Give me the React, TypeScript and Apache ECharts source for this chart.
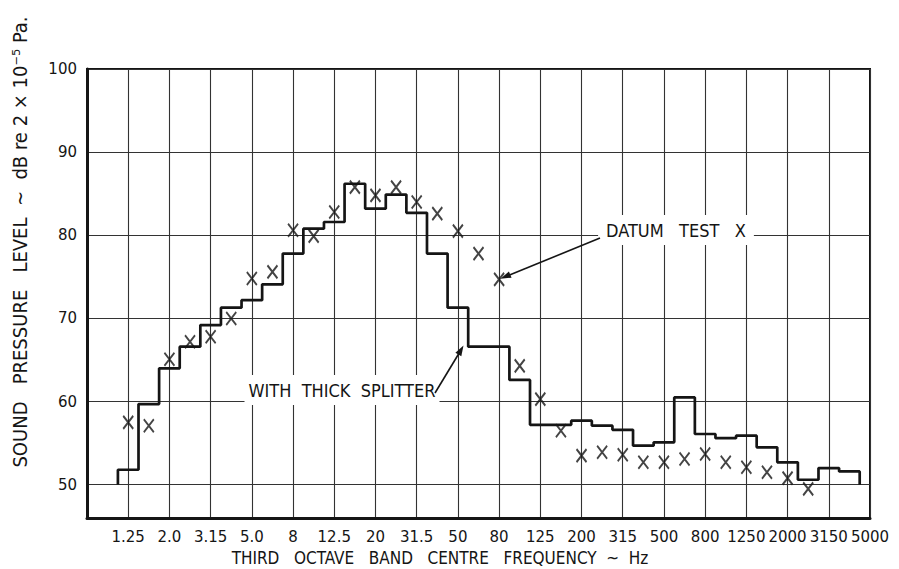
import React, { useEffect, useRef } from "react";
import * as echarts from "echarts";

// Third-octave band centres (Hz) from the left edge of the chart to the right edge
const bandCentres = [
  "0.8", "1.0", "1.25", "1.6", "2.0", "2.5", "3.15", "4", "5", "6.3",
  "8", "10", "12.5", "16", "20", "25", "31.5", "40", "50", "63",
  "80", "100", "125", "160", "200", "250", "315", "400", "500", "630",
  "800", "1000", "1250", "1600", "2000", "2500", "3150", "4000", "5000",
];

// Labels shown under every other band line
const xTickLabels = [
  "", "1.25", "2.0", "3.15", "5.0", "8", "12.5", "20", "31.5", "50", "80",
  "125", "200", "315", "500", "800", "1250", "2000", "3150", "5000",
];

// "With thick splitter" stepped spectrum, 1.25 Hz .. 4000 Hz
const splitterBands = bandCentres.slice(2, 38);
const splitterLevels = [
  51.8, 59.7, 64.0, 66.6, 69.2, 71.3, 72.2, 74.1, 77.8, 80.8,
  81.6, 86.2, 83.2, 84.9, 82.7, 77.8, 71.3, 66.6, 66.6, 62.6,
  57.2, 57.2, 57.7, 57.1, 56.6, 54.7, 55.1, 60.5, 56.1, 55.6,
  55.9, 54.5, 52.7, 50.6, 52.0, 51.6,
];
const stepBaseLevel = 50;

// "Datum test" points (X), 1.25 Hz .. 2500 Hz
const datumBands = bandCentres.slice(2, 36);
const datumLevels = [
  57.5, 57.1, 65.1, 67.2, 67.8, 70.0, 74.8, 75.6, 80.6, 79.9,
  82.8, 85.8, 84.8, 85.8, 84.0, 82.6, 80.5, 77.8, 74.7, 64.3,
  60.3, 56.5, 53.5, 53.9, 53.6, 52.7, 52.7, 53.1, 53.7, 52.7,
  52.1, 51.5, 50.8, 49.5,
];

const yMin = 46;
const yMax = 100;

const lettering = "'Liberation Sans Narrow', 'DejaVu Sans Condensed', 'DejaVu Sans', sans-serif";
const digits = "'DejaVu Sans', sans-serif";

export default function App() {
  const ref = useRef<HTMLDivElement>(null);

  useEffect(() => {
    if (!ref.current) return;
    const chart = echarts.init(ref.current, undefined, { renderer: "svg" });

    const stepPoints: number[][] = [];
    const firstIdx = bandCentres.indexOf(splitterBands[0]);
    stepPoints.push([firstIdx - 0.5, stepBaseLevel]);
    splitterBands.forEach((b, i) => {
      const idx = bandCentres.indexOf(b);
      stepPoints.push([idx - 0.5, splitterLevels[i]]);
      stepPoints.push([idx + 0.5, splitterLevels[i]]);
    });
    const lastIdx = bandCentres.indexOf(splitterBands[splitterBands.length - 1]);
    stepPoints.push([lastIdx + 0.5, stepBaseLevel]);

    const datumPoints = datumBands.map((b, i) => [bandCentres.indexOf(b), datumLevels[i]]);

    const ink = "#151515";

    chart.setOption({
      animation: false,
      backgroundColor: "#ffffff",
      grid: {
        left: 87,
        right: 29,
        top: 69,
        bottom: 51,
        show: true,
        borderColor: ink,
        borderWidth: 2,
        backgroundColor: "transparent",
      },
      xAxis: {
        type: "value",
        min: 0,
        max: bandCentres.length - 1,
        interval: 2,
        axisLine: { show: true, onZero: false, lineStyle: { color: ink, width: 3 } },
        axisTick: { show: false },
        splitLine: { show: true, lineStyle: { color: "#333", width: 1.1 } },
        axisLabel: {
          margin: 11,
          color: ink,
          fontFamily: digits,
          fontSize: 15,
          formatter: (v: number) => xTickLabels[Math.round(v / 2)] ?? "",
        },
      },
      yAxis: {
        type: "value",
        min: yMin,
        max: yMax,
        splitNumber: 5,
        axisLine: { show: true, lineStyle: { color: ink, width: 3 } },
        axisTick: { show: false },
        splitLine: { show: true, lineStyle: { color: "#333", width: 1.1 } },
        axisLabel: {
          margin: 10,
          color: ink,
          fontFamily: digits,
          fontSize: 15,
          formatter: (v: number) => (Math.round(v) % 10 === 0 ? String(Math.round(v)) : ""),
        },
      },
      series: [
        {
          name: "WITH THICK SPLITTER",
          type: "line",
          data: stepPoints,
          showSymbol: false,
          lineStyle: { color: ink, width: 2.7 },
          z: 3,
        },
        {
          name: "DATUM TEST",
          type: "scatter",
          data: datumPoints,
          symbol: "path://M0,0L10,13M10,0L0,13",
          symbolSize: [10, 13],
          itemStyle: { color: "none", borderColor: ink, borderWidth: 2 },
          z: 4,
        },
      ],
      graphic: [
        {
          type: "text",
          x: 440,
          y: 558,
          style: {
            text: "THIRD   OCTAVE   BAND   CENTRE   FREQUENCY  ~  Hz",
            font: `17px ${lettering}`,
            fill: ink,
            align: "center",
            verticalAlign: "middle",
          },
        },
        {
          type: "text",
          x: 20,
          y: 242,
          rotation: Math.PI / 2,
          style: {
            text: "SOUND   PRESSURE   LEVEL  ~  dB re 2 × 10⁻⁵ Pa.",
            font: `20px ${lettering}`,
            fill: ink,
            align: "center",
            verticalAlign: "middle",
          },
        },
        {
          type: "text",
          x: 676,
          y: 230,
          z: 10,
          style: {
            text: "DATUM   TEST   X",
            font: `18px ${lettering}`,
            fill: ink,
            align: "center",
            verticalAlign: "middle",
            backgroundColor: "#ffffff",
            padding: [6, 8, 6, 8],
          },
        },
        {
          type: "text",
          x: 342,
          y: 390,
          z: 10,
          style: {
            text: "WITH  THICK  SPLITTER",
            font: `18px ${lettering}`,
            fill: ink,
            align: "center",
            verticalAlign: "middle",
            backgroundColor: "#ffffff",
            padding: [6, 4, 6, 4],
          },
        },
        {
          type: "line",
          z: 11,
          shape: { x1: 600, y1: 238, x2: 506, y2: 276.5 },
          style: { stroke: ink, lineWidth: 1.6 },
        },
        {
          type: "polygon",
          z: 11,
          shape: { points: [[500.5, 278.8], [511.6, 277.7], [508.9, 271.5]] },
          style: { fill: ink },
        },
        {
          type: "line",
          z: 11,
          shape: { x1: 435, y1: 393, x2: 461, y2: 350 },
          style: { stroke: ink, lineWidth: 1.6 },
        },
        {
          type: "polygon",
          z: 11,
          shape: { points: [[463.5, 345.5], [461.3, 356.3], [455.4, 352.7]] },
          style: { fill: ink },
        },
      ],
    });

    return () => chart.dispose();
  }, []);

  return (
    <div
      ref={ref}
      style={{ position: "fixed", left: 0, top: 0, width: 899, height: 569, background: "#fff" }}
    />
  );
}
